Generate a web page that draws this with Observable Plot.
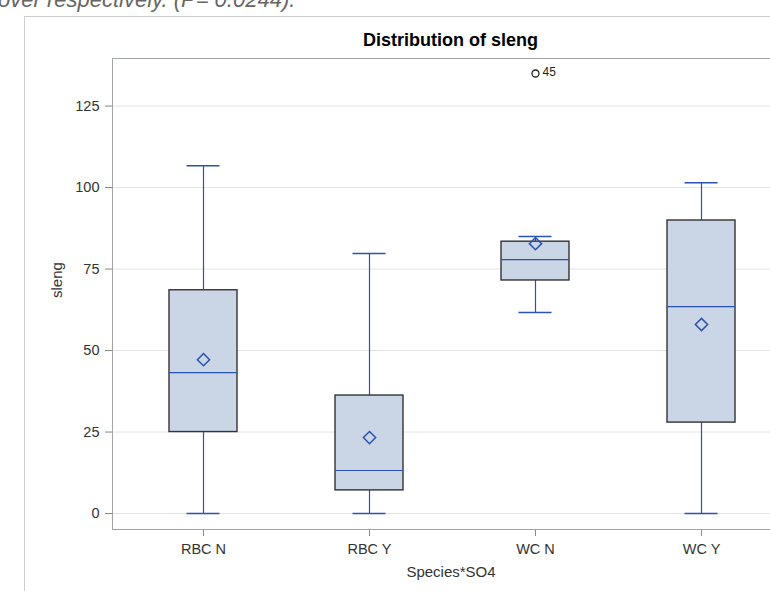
<!DOCTYPE html>
<html>
<head>
<meta charset="utf-8">
<script src="https://cdn.jsdelivr.net/npm/d3@7"></script>
<script src="https://cdn.jsdelivr.net/npm/@observablehq/plot@0.6"></script>
<style>
  html, body { margin: 0; padding: 0; background: #fff; overflow: hidden; width: 770px; height: 591px; }
  #note { position: absolute; left: -2px; top: -11px; font: italic 22px "Liberation Sans", Arial, sans-serif; line-height: 22px; color: #666; white-space: nowrap; }
  #outer { position: absolute; left: 24px; top: 16px; width: 800px; height: 600px; border-left: 1px solid #cfcfcf; border-top: 1px solid #cfcfcf; }
  #title { position: absolute; left: 0; width: 901px; top: 30px; text-align: center; font: bold 18px "Liberation Sans", Arial, sans-serif; color: #000; }
  #chart { position: absolute; left: 0; top: 0; width: 800px; }
  #chart svg { max-width: none !important; width: 800px; height: 591px; }
</style>
</head>
<body>
<div id="note">over respectively. (P= 0.0244).</div>
<div id="outer"></div>
<div id="chart"></div>
<div id="title">Distribution of sleng</div>
<script>
const categories = ["RBC N", "RBC Y", "WC N", "WC Y"];
const lowWhisker = [0, 0, 61.7, 0];
const q1 = [25, 7.1, 71.5, 27.9];
const median = [43.2, 13.2, 77.9, 63.5];
const q3 = [68.5, 36.2, 83.4, 89.9];
const highWhisker = [106.7, 79.8, 85, 101.5];
const mean = [47.2, 23.3, 82.8, 58];
const outlierCategory = ["WC N"];
const outlierValue = [135];
const outlierLabel = ["45"];
const yTicks = [0, 25, 50, 75, 100, 125];

const boxes = categories.map((c, i) => ({
  cat: c, lo: lowWhisker[i], q1: q1[i], med: median[i], q3: q3[i], hi: highWhisker[i], mean: mean[i]
}));
const outliers = outlierCategory.map((c, i) => ({cat: c, v: outlierValue[i], label: outlierLabel[i]}));

const blue = "#2a52b0";
const font = '"Liberation Sans", Arial, sans-serif';

const chart = Plot.plot({
  width: 800,
  height: 591,
  marginTop: 58,
  marginBottom: 62,
  marginLeft: 112,
  marginRight: 8,
  style: {fontFamily: font, fontSize: "14.5px", color: "#333", background: "transparent", overflow: "visible", maxWidth: "none"},
  x: {type: "band", domain: categories, range: [69.33, 834.67], paddingInner: 0.592, paddingOuter: 0.592, label: null},
  y: {domain: [-4.9, 139.6], label: null},
  marks: [
    Plot.gridY(yTicks, {stroke: "#e4e4e4", strokeOpacity: 1}),
    Plot.ruleX(boxes, {x: "cat", y1: "lo", y2: "q1", stroke: blue, strokeWidth: 1.2}),
    Plot.ruleX(boxes, {x: "cat", y1: "q3", y2: "hi", stroke: blue, strokeWidth: 1.2}),
    Plot.tickY(boxes, {x: "cat", y: "lo", stroke: blue, strokeWidth: 1.5, insetLeft: 17.5, insetRight: 17.5}),
    Plot.tickY(boxes, {x: "cat", y: "hi", stroke: blue, strokeWidth: 1.5, insetLeft: 17.5, insetRight: 17.5}),
    Plot.barY(boxes, {x: "cat", y1: "q1", y2: "q3", fill: "#cad5e5", stroke: "#333", strokeWidth: 1.4}),
    Plot.tickY(boxes, {x: "cat", y: "med", stroke: blue, strokeWidth: 1.2}),
    Plot.dot(boxes, {x: "cat", y: "mean", symbol: "diamond2", r: 5.5, stroke: blue, strokeWidth: 1.5, fill: "none"}),
    Plot.dot(outliers, {x: "cat", y: "v", r: 3.5, stroke: "#222", strokeWidth: 1.3, fill: "none"}),
    Plot.text(outliers, {x: "cat", y: "v", text: "label", dx: 7, dy: -1, textAnchor: "start", fontSize: 12, fill: "#222"}),
    Plot.axisY({ticks: yTicks, tickSize: 7, tickPadding: 6, stroke: "#888", fill: "#333", label: null}),
    Plot.axisX({tickSize: 7, tickPadding: 7, stroke: "#888", fill: "#333", label: null}),
    Plot.frame({stroke: "#a0a4a8"}),
    Plot.text(["sleng"], {frameAnchor: "left", dx: -55, dy: 4, rotate: -90, fontSize: 15, fill: "#333"}),
    Plot.text(["Species*SO4"], {frameAnchor: "bottom", dx: -1.5, dy: 47, fontSize: 15, fill: "#333"})
  ]
});
document.getElementById("chart").appendChild(chart);
</script>
</body>
</html>
